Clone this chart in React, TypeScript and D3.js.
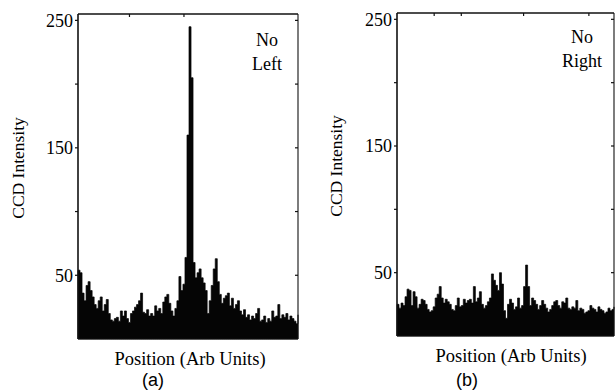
import React from 'react'
import * as d3 from 'd3'

// CCD intensity traces (one value per ~2px of the panel)
const leftIntensity = [
  54, 52, 36, 30, 42, 45, 38, 33, 27, 24, 30, 33, 22, 27, 31, 20, 15, 14, 16, 17,
  14, 22, 18, 22, 16, 13, 20, 22, 25, 27, 30, 36, 21, 20, 23, 18, 20, 18, 26, 22,
  24, 20, 29, 33, 35, 28, 22, 18, 24, 30, 49, 38, 43, 64, 160, 245, 205, 60, 48, 52,
  55, 48, 44, 38, 20, 30, 42, 55, 63, 45, 35, 28, 32, 34, 36, 26, 32, 24, 27, 30,
  22, 19, 23, 17, 19, 15, 18, 16, 20, 24, 14, 15, 18, 13, 16, 14, 22, 17, 18, 27,
  16, 19, 17, 20, 15, 18, 16, 14, 12, 19,
]
const rightIntensity = [
  25, 22, 26, 24, 31, 37, 36, 24, 35, 31, 22, 25, 29, 28, 25, 21, 19, 20, 23, 30,
  33, 39, 30, 26, 29, 27, 25, 21, 20, 24, 30, 23, 24, 29, 26, 28, 29, 26, 39, 27,
  30, 35, 25, 22, 24, 27, 30, 49, 44, 40, 36, 50, 41, 20, 14, 25, 29, 26, 21, 23,
  30, 22, 24, 39, 56, 39, 24, 30, 28, 25, 21, 24, 28, 25, 22, 19, 21, 24, 27, 28,
  24, 22, 27, 26, 30, 22, 21, 23, 22, 28, 20, 22, 21, 18, 19, 20, 24, 22, 21, 19,
  23, 21, 20, 18, 19, 22, 20, 21, 23,
]
const yTicks = [50, 100, 150, 200, 250]
const yLabels = [50, 150, 250]
const leftTopTicks = [25.5, 52.5]
const rightTopTicks = [18.5, 32, 63, 95.5]
const leftNote = ['No', 'Left']
const rightNote = ['No', 'Right']

const serif = '"Liberation Serif", "DejaVu Serif", serif'
const sans = '"Liberation Sans", Arial, sans-serif'

type PanelProps = {
  data: number[]
  topTicks: number[]
  note: string[]
  tag: string
  left: number
  right: number
  top: number
  bottom: number
  noteX: number
  noteY: number
  titleX: number
  tagX: number
  ylabX: number
  ylabY: number
}

function Panel(p: PanelProps) {
  const x = d3.scaleLinear().domain([0, p.data.length - 1]).range([p.left, p.right])
  const y = d3.scaleLinear().domain([0, 255]).range([p.bottom, p.top])
  const area = d3.area<number>()
    .x((_, i) => x(i))
    .y0(y(0))
    .y1(d => y(d))
    .curve(d3.curveStepAfter)
  return (
    <g>
      <path d={area(p.data) || ''} fill="#050505" stroke="#050505" strokeWidth={0.7} />
      {/* frame */}
      <line x1={p.left} x2={p.left} y1={p.top} y2={p.bottom} stroke="#111" strokeWidth={1.6} />
      <line x1={p.left} x2={p.right} y1={p.top} y2={p.top} stroke="#111" strokeWidth={1.6} />
      <line x1={p.right} x2={p.right} y1={p.top} y2={p.bottom} stroke="#111" strokeWidth={1.1} />
      <line x1={p.left} x2={p.right} y1={p.bottom} y2={p.bottom} stroke="#111" strokeWidth={1.2} />
      {yTicks.map(t => (
        <g key={t}>
          <line x1={p.left - 3} x2={p.left} y1={y(t)} y2={y(t)} stroke="#111" strokeWidth={1.2} />
          <line x1={p.right - 3} x2={p.right} y1={y(t)} y2={y(t)} stroke="#111" strokeWidth={1.2} />
        </g>
      ))}
      {p.topTicks.map(t => (
        <line key={t} x1={x(t)} x2={x(t)} y1={p.top} y2={p.top + 3} stroke="#111" strokeWidth={1.2} />
      ))}
      {yLabels.map(t => (
        <text key={t} x={p.left - 5} y={y(t)} dy="0.36em" textAnchor="end"
          fontFamily={serif} fontSize={18} fill="#000">{t}</text>
      ))}
      <text transform={`translate(${p.ylabX},${p.ylabY}) rotate(-90)`} textAnchor="middle"
        fontFamily={serif} fontSize={17.5} fill="#000">CCD Intensity</text>
      {p.note.map((s, i) => (
        <text key={s} x={p.noteX} y={p.noteY + i * 24} textAnchor="middle"
          fontFamily={serif} fontSize={18} fill="#000">{s}</text>
      ))}
      <text x={p.titleX} y={p.bottom + 26} textAnchor="middle"
        fontFamily={serif} fontSize={18.5} fill="#000">Position (Arb Units)</text>
      <text x={p.tagX} y={386} textAnchor="middle"
        fontFamily={sans} fontSize={18} fill="#000">{p.tag}</text>
    </g>
  )
}

export default function App() {
  return (
    <svg width={615} height={392} style={{ position: 'absolute', left: 0, top: 0, background: '#fff' }}>
      <Panel data={leftIntensity} topTicks={leftTopTicks} note={leftNote} tag="(a)"
        left={78} right={298} top={14} bottom={339}
        noteX={267} noteY={46} titleX={190} tagX={153} ylabX={24} ylabY={168} />
      <Panel data={rightIntensity} topTicks={rightTopTicks} note={rightNote} tag="(b)"
        left={397} right={614} top={13} bottom={336}
        noteX={582} noteY={43} titleX={511} tagX={467} ylabX={342} ylabY={166} />
    </svg>
  )
}
